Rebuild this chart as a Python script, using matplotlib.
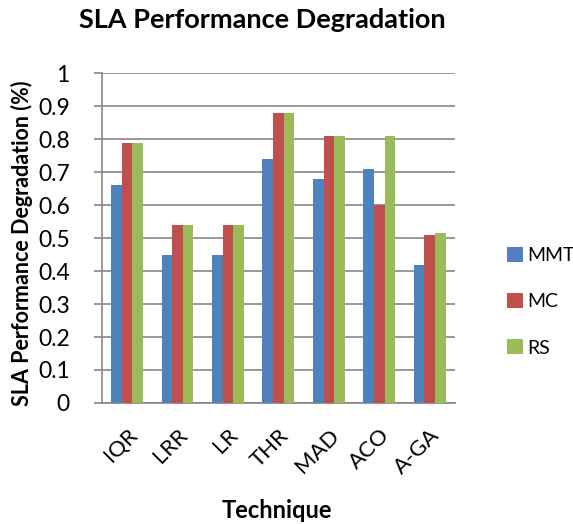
import matplotlib
matplotlib.use('Agg')
import matplotlib.pyplot as plt
import numpy as np

plt.rcParams['font.family'] = ['Lato', 'DejaVu Sans']

techniques = ['IQR', 'LRR', 'LR', 'THR', 'MAD', 'ACO', 'A-GA']
series_names = ['MMT', 'MC', 'RS']
mmt = [0.66, 0.45, 0.45, 0.74, 0.68, 0.71, 0.42]
mc = [0.79, 0.54, 0.54, 0.88, 0.81, 0.60, 0.51]
rs = [0.79, 0.54, 0.54, 0.88, 0.81, 0.81, 0.516]
colors = ['#4F81BD', '#C0504D', '#9BBB59']

fig = plt.figure(figsize=(5.73, 5.24), dpi=100)
ax = fig.add_axes([0.1775, 0.231, 0.6165, 0.629])

x = np.arange(len(techniques))
width = 0.21
for i, (vals, name) in enumerate(zip([mmt, mc, rs], series_names)):
    ax.bar(x + (i - 1) * width, vals, width, color=colors[i], label=name, zorder=3)

ax.set_xlim(-0.5, len(techniques) - 0.5)
ax.set_ylim(0, 1)
ax.set_yticks(np.arange(0, 1.01, 0.1))
ax.set_yticklabels(['0', '0.1', '0.2', '0.3', '0.4', '0.5', '0.6', '0.7', '0.8', '0.9', '1'])
ax.yaxis.grid(True, color='#868686', linewidth=1.2, zorder=0)
ax.set_xticks(x)
ax.set_xticklabels(techniques, rotation=45, ha='right', rotation_mode='anchor')
ax.tick_params(axis='x', length=0, labelsize=16, pad=16)
ax.tick_params(axis='y', length=6, width=1.2, color='#868686', labelsize=16.5,
               direction='out', pad=17)

for s in ['top', 'right']:
    ax.spines[s].set_visible(False)
ax.spines['left'].set_color('#868686')
ax.spines['left'].set_linewidth(1.2)
ax.spines['bottom'].set_color('#868686')
ax.spines['bottom'].set_linewidth(1.2)

fig.text(0.458, 0.962, 'SLA Performance Degradation', fontsize=19.5, fontweight='bold',
         ha='center', va='center')
fig.text(0.038, 0.535, 'SLA Performance Degradation (%)', fontsize=15.5, fontweight='bold',
         rotation=90, ha='center', va='center')
fig.text(0.4835, 0.0267, 'Technique', fontsize=17, fontweight='bold', ha='center', va='center')

ax.legend(loc='center left', bbox_to_anchor=(0.8686, 0.4243), bbox_transform=fig.transFigure,
          frameon=False, borderpad=0, handlelength=0.8, handleheight=0.8,
          labelspacing=1.5, fontsize=14, handletextpad=0.2)

fig.savefig('out.png', dpi=100)
